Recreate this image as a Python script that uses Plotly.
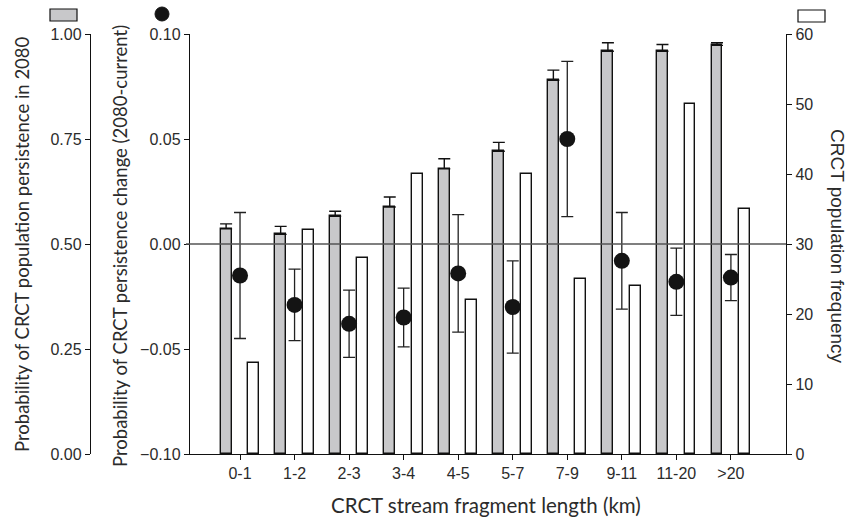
import plotly.graph_objects as go

categories = ["0-1", "1-2", "2-3", "3-4", "4-5", "5-7", "7-9", "9-11", "11-20", ">20"]
persistence = [0.536, 0.523, 0.566, 0.588, 0.679, 0.721, 0.890, 0.959, 0.959, 0.973]
persistence_err = [0.012, 0.019, 0.012, 0.024, 0.024, 0.021, 0.024, 0.020, 0.016, 0.006]
change = [-0.015, -0.029, -0.038, -0.035, -0.014, -0.030, 0.050, -0.008, -0.018, -0.016]
change_err = [0.030, 0.017, 0.016, 0.014, 0.028, 0.022, 0.037, 0.023, 0.016, 0.011]
frequency = [13, 32, 28, 40, 22, 40, 25, 24, 50, 35]
no_err = [0] * len(categories)

persist_ticks = [0, 0.25, 0.5, 0.75, 1.0]
persist_ticktext = ["0.00", "0.25", "0.50", "0.75", "1.00"]
change_ticks = [-0.10, -0.05, 0.0, 0.05, 0.10]
change_ticktext = ["\u22120.10", "\u22120.05", "0.00", "0.05", "0.10"]
freq_ticks = [0, 10, 20, 30, 40, 50, 60]

W, H = 849, 517
ML, MR, MT, MB = 10, 10, 34, 63
PW = W - ML - MR
PH = H - MT - MB


def px_x(px):
    return (px - ML) / PW


def px_y(py):
    return (H - MB - py) / PH


TXT = "#2b2b2b"
FONT = "Liberation Sans, Arial, sans-serif"
FONT2 = "Lato, sans-serif"

fig = go.Figure()

fig.add_trace(go.Bar(
    x=categories, y=frequency, yaxis="y",
    width=0.2, offset=0.15,
    marker=dict(color="white", line=dict(color="#111", width=1.4)),
    name="frequency",
))

fig.add_trace(go.Bar(
    x=categories, y=persistence, yaxis="y2",
    width=0.2, offset=-0.355,
    marker=dict(color="#c8c8ca", line=dict(color="#111", width=1.4)),
    error_y=dict(type="data", symmetric=False, array=persistence_err, arrayminus=no_err,
                 color="#111", thickness=1.4, width=6),
    name="persistence",
))

fig.add_trace(go.Scatter(
    x=categories, y=change, yaxis="y3", mode="markers",
    marker=dict(size=16, color="#141414"),
    error_y=dict(type="data", array=change_err, color="#222", thickness=1.3, width=6),
    name="change",
))

x0d, x1d = px_x(190), px_x(786)

axis_common = dict(showline=True, linecolor="#111", linewidth=1.4, ticks="outside",
                   ticklen=5, tickwidth=1.4, tickcolor="#111", showgrid=False,
                   zeroline=False, tickfont=dict(family=FONT, size=16, color=TXT))

fig.update_layout(
    width=W, height=H,
    margin=dict(l=ML, r=MR, t=MT, b=MB),
    paper_bgcolor="white", plot_bgcolor="white",
    showlegend=False,
    bargap=0,
    xaxis=dict(type="category", domain=[x0d, x1d], range=[-0.917, 10.01],
               **axis_common),
    yaxis=dict(range=[0, 60], tickvals=freq_ticks, side="right", anchor="x",
               **axis_common),
    yaxis2=dict(range=[0, 1], tickvals=persist_ticks, ticktext=persist_ticktext,
                overlaying="y", side="left", anchor="free", position=px_x(90),
                **axis_common),
    yaxis3=dict(range=[-0.1, 0.1], tickvals=change_ticks, ticktext=change_ticktext,
                overlaying="y", side="left", anchor="x",
                **axis_common),
)

# zero reference line
fig.add_shape(type="line", xref="paper", yref="y3", x0=px_x(186), x1=x1d, y0=0, y1=0,
              line=dict(color="#555", width=1.5), layer="above")

# legend keys
fig.add_shape(type="rect", xref="paper", yref="paper",
              x0=px_x(50), x1=px_x(77), y0=px_y(21), y1=px_y(9),
              fillcolor="#c8c8ca", line=dict(color="#111", width=1.2))
fig.add_shape(type="circle", xref="paper", yref="paper",
              x0=px_x(155), x1=px_x(169), y0=px_y(21), y1=px_y(7),
              fillcolor="#141414", line=dict(color="#141414", width=1))
fig.add_shape(type="rect", xref="paper", yref="paper",
              x0=px_x(798), x1=px_x(825), y0=px_y(22), y1=px_y(10),
              fillcolor="white", line=dict(color="#111", width=1.2))

left_title_font = dict(family=FONT2, size=18.5, color=TXT)
fig.add_annotation(text="Probability of CRCT population persistence in 2080",
                   xref="paper", yref="paper", x=px_x(22), y=px_y(244),
                   textangle=-90, showarrow=False, font=left_title_font,
                   xanchor="center", yanchor="middle")
fig.add_annotation(text="Probability of CRCT persistence change (2080-current)",
                   xref="paper", yref="paper", x=px_x(120), y=px_y(246),
                   textangle=-90, showarrow=False, font=left_title_font,
                   xanchor="center", yanchor="middle")
fig.add_annotation(text="CRCT population frequency",
                   xref="paper", yref="paper", x=px_x(838), y=px_y(246),
                   textangle=90, showarrow=False,
                   font=dict(family=FONT, size=19, color=TXT),
                   xanchor="center", yanchor="middle")
fig.add_annotation(text="CRCT stream fragment length (km)",
                   xref="paper", yref="paper", x=px_x(486), y=px_y(505),
                   showarrow=False, font=dict(family=FONT2, size=20.5, color=TXT),
                   xanchor="center", yanchor="middle")

fig.write_html("out.html", config={"displayModeBar": False},
               post_script="document.body.style.margin='0';document.body.style.padding='0';")
